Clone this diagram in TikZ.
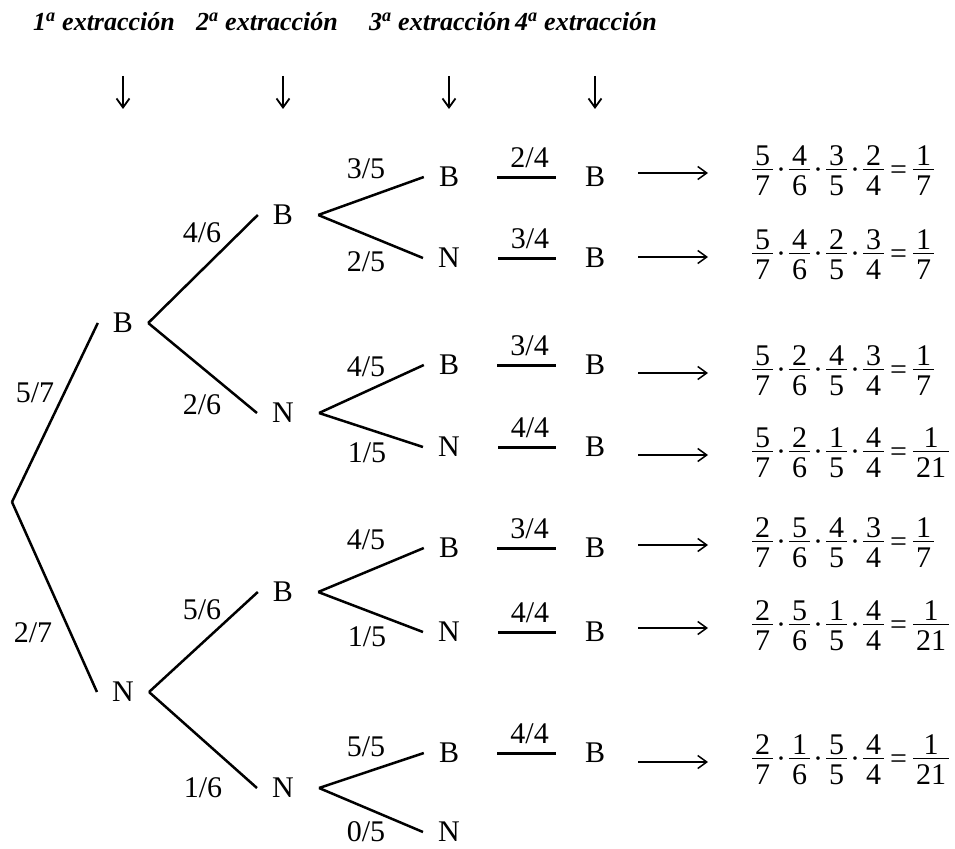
\documentclass[tikz,border=0pt]{standalone}
\usepackage{fontspec}
\setmainfont{Liberation Serif}
\usetikzlibrary{arrows.meta}

% fraccion escrita con una tabla
\newcommand{\fraccion}[2]{{\setlength{\arrayrulewidth}{1.3pt}%
  \begin{tabular}{@{\hspace{3pt}}c@{\hspace{3pt}}}#1\\[-7pt]\hline #2\end{tabular}}}
\newcommand{\punto}{\kern3pt·\kern3pt}
\newcommand{\igual}{\hspace{6pt}=\hspace{6pt}}

\tikzset{
  cab/.style={font=\fontsize{26}{30}\selectfont\bfseries\itshape},
  bola/.style={inner xsep=15pt,inner ysep=2pt},
  prob/.style={inner sep=2pt},
  rama/.style={line width=2.5pt},
  barra/.style={line width=3pt,shorten <=23pt,shorten >=14pt},
  flecha/.style={line width=1.5pt,-{Straight Barb[length=9pt,width=13pt]}},
  resultado/.style={anchor=west,inner sep=0pt}
}

\begin{document}
\begin{tikzpicture}[x=1pt,y=-1pt,font=\fontsize{30}{36}\selectfont]
  \useasboundingbox (0,0) rectangle (955,848);
  % cabecera
  \node[cab] (c1) at (104,22) {1\textsuperscript{a} extracción};
  \node[cab] (c2) at (267,22) {2\textsuperscript{a} extracción};
  \node[cab] (c3) at (440,22) {3\textsuperscript{a} extracción};
  \node[cab] (c4) at (586,22) {4\textsuperscript{a} extracción};
  % arbol
  \coordinate (r) at (12,502);
  \node[bola] (b) at (123,323) {B};
  \node[bola] (n) at (123,692) {N};
  \node[bola] (bb) at (283,215) {B};
  \node[bola] (bn) at (283,413) {N};
  \node[bola] (nb) at (283,592) {B};
  \node[bola] (nn) at (283,788) {N};
  \node[bola] (bbb) at (449,177) {B};
  \node[bola] (bbn) at (449,258) {N};
  \node[bola] (bnb) at (449,365) {B};
  \node[bola] (bnn) at (449,447) {N};
  \node[bola] (nbb) at (449,548) {B};
  \node[bola] (nbn) at (449,632) {N};
  \node[bola] (nnb) at (449,753) {B};
  \node[bola] (nnn) at (449,832) {N};
  \draw[rama] (r) -- (b.west);
  \draw[rama] (r) -- (n.west);
  \foreach \a/\z in {b/bb,b/bn,n/nb,n/nn}
    \draw[rama] (\a.east) -- (\z.west);
  \foreach \a/\z in {bb/bbb,bb/bbn,bn/bnb,bn/bnn,nb/nbb,nb/nbn,nn/nnb,nn/nnn}
    \draw[rama] ([xshift=10pt]\a.east) -- (\z.west);
  % probabilidades
  \node[prob] (pb) at (35,393) {5/7};
  \node[prob] (pn) at (33,633) {2/7};
  \node[prob] (pbb) at (202,233) {4/6};
  \node[prob] (pbn) at (202,405) {2/6};
  \node[prob] (pnb) at (202,610) {5/6};
  \node[prob] (pnn) at (203,788) {1/6};
  \node[prob] (pbbb) at (366,169) {3/5};
  \node[prob] (pbbn) at (366,262) {2/5};
  \node[prob] (pbnb) at (366,367) {4/5};
  \node[prob] (pbnn) at (367,453) {1/5};
  \node[prob] (pnbb) at (366,540) {4/5};
  \node[prob] (pnbn) at (367,637) {1/5};
  \node[prob] (pnnb) at (366,747) {5/5};
  \node[prob] (pnnn) at (366,832) {0/5};
  % cuarta extraccion y resultados
  \coordinate (colB) at (595,0);
  \foreach \c/\yf/\p/\eq [count=\i] in {
    bbb/173/{2/4}/{\fraccion{5}{7}\punto\fraccion{4}{6}\punto\fraccion{3}{5}\punto\fraccion{2}{4}\igual\fraccion{1}{7}},
    bbn/257/{3/4}/{\fraccion{5}{7}\punto\fraccion{4}{6}\punto\fraccion{2}{5}\punto\fraccion{3}{4}\igual\fraccion{1}{7}},
    bnb/373/{3/4}/{\fraccion{5}{7}\punto\fraccion{2}{6}\punto\fraccion{4}{5}\punto\fraccion{3}{4}\igual\fraccion{1}{7}},
    bnn/455/{4/4}/{\fraccion{5}{7}\punto\fraccion{2}{6}\punto\fraccion{1}{5}\punto\fraccion{4}{4}\igual\fraccion{1}{21}},
    nbb/545/{3/4}/{\fraccion{2}{7}\punto\fraccion{5}{6}\punto\fraccion{4}{5}\punto\fraccion{3}{4}\igual\fraccion{1}{7}},
    nbn/628/{4/4}/{\fraccion{2}{7}\punto\fraccion{5}{6}\punto\fraccion{1}{5}\punto\fraccion{4}{4}\igual\fraccion{1}{21}},
    nnb/762/{4/4}/{\fraccion{2}{7}\punto\fraccion{1}{6}\punto\fraccion{5}{5}\punto\fraccion{4}{4}\igual\fraccion{1}{21}}}{
    \node[bola] (\c b) at (\c -| colB) {B};
    \node[resultado] (e\i) at (752,\yf) {\eq};
    \draw[barra] (\c) -- (\c b) node[pos=0.58,above=6pt,prob] (q\i) {\p};
    \draw[flecha,shorten <=18pt,shorten >=44pt] (e\i -| \c b.east) -- (e\i.west);
  }
  % flechas de columna
  \coordinate (arriba) at (0,76);
  \coordinate (abajo) at (0,109);
  \foreach \c in {b,bb,bbb,bbbb}
    \draw[flecha,line width=1.8pt] (\c |- arriba) -- (\c |- abajo);
\end{tikzpicture}
\end{document}
